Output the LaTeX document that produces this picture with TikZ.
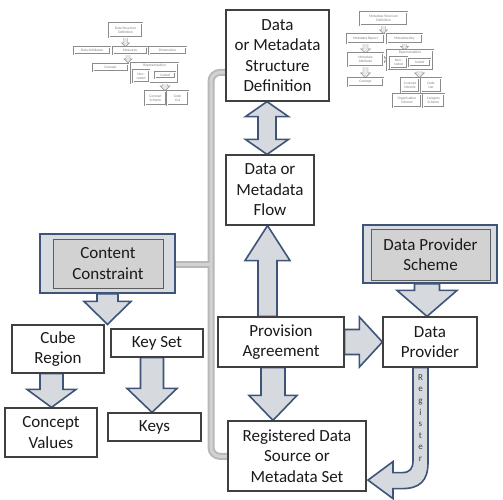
\documentclass[tikz,border=0pt]{standalone}
\usepackage{fontspec}
\setmainfont{Carlito}
\usetikzlibrary{calc,backgrounds}
\definecolor{boxline}{HTML}{404040}
\definecolor{arrline}{HTML}{3E5479}
\definecolor{arrfill}{HTML}{D6D9DE}
\definecolor{outfill}{HTML}{D8DBE0}
\definecolor{infill}{HTML}{D2D2D2}
\definecolor{brk}{HTML}{B8B8B8}
\definecolor{brkin}{HTML}{D2D2D2}
\definecolor{txt}{HTML}{1A1A1A}
\definecolor{mini}{HTML}{8C8C8C}
\definecolor{minitxt}{HTML}{808080}
\newcommand\mainfs{\fontsize{17}{20.5}\selectfont}
\newcommand\minifs{\fontsize{3.6}{4.2}\selectfont}
\newcommand\regfs{\fontsize{9}{11.6}\selectfont}
% block arrow: [style]{start}{end}{half shaft}{half head}{head length}
\newcommand\blockarrow[6][barrow]{%
  \coordinate (bam) at ($(#3)!#6!(#2)$);
  \draw[#1] ($(#2)!#4!90:(#3)$) -- ($(bam)!#4!90:(#3)$) -- ($(bam)!#5!90:(#3)$) -- (#3)
    -- ($(bam)!#5!-90:(#3)$) -- ($(bam)!#4!-90:(#3)$) -- ($(#2)!#4!-90:(#3)$) -- cycle;}
\newcommand\dblarrow[6][barrow]{%
  \coordinate (bam) at ($(#3)!#6!(#2)$);
  \coordinate (bbm) at ($(#2)!#6!(#3)$);
  \draw[#1] (#2) -- ($(bbm)!#5!90:(#3)$) -- ($(bbm)!#4!90:(#3)$) -- ($(bam)!#4!90:(#3)$)
    -- ($(bam)!#5!90:(#3)$) -- (#3) -- ($(bam)!#5!-90:(#3)$) -- ($(bam)!#4!-90:(#3)$)
    -- ($(bbm)!#4!-90:(#3)$) -- ($(bbm)!#5!-90:(#3)$) -- cycle;}
\begin{document}
\begin{tikzpicture}[x=1pt,y=-1pt,
  box/.style={draw=boxline, line width=1.2pt, fill=white, align=center, inner sep=0pt,
    text=txt, font=\mainfs},
  outerbox/.style={draw=arrline, line width=1.6pt, fill=outfill, inner sep=0pt},
  innerbox/.style={draw=boxline!85, line width=1pt, fill=infill, align=center, inner sep=0pt,
    text=txt, font=\mainfs},
  barrow/.style={draw=arrline, line width=1.6pt, fill=arrfill, line join=miter},
  bracketout/.style={draw=brk, line width=7pt, rounded corners=9pt},
  bracketin/.style={draw=brkin, line width=3pt, rounded corners=9pt},
  mbox/.style={draw=mini, line width=0.4pt, double=white, double distance=0.45pt, fill=white,
    inner sep=0pt, align=center, font=\minifs, text=minitxt},
  marrow/.style={draw=mini, line width=0.45pt, fill=gray!18},
  regtxt/.style={align=center, font=\regfs, text=boxline, inner sep=0pt}]
\useasboundingbox (0,0) rectangle (503,499);

% ---------- main nodes ----------
\node[box, minimum width=103pt, minimum height=91pt] (dsd) at (277.5,55.5)
  {Data\\or Metadata\\Structure\\Definition};
\node[box, minimum width=88pt, minimum height=70pt] (flow) at (270,190)
  {Data or\\Metadata\\Flow};
\node[box, minimum width=126pt, minimum height=50pt] (pa) at (281,342)
  {Provision\\Agreement};
\node[box, minimum width=138pt, minimum height=70pt] (reg) at (297,456)
  {Registered Data\\Source or\\Metadata Set};
\node[box, minimum width=94pt, minimum height=50pt] (dp) at (430,342)
  {Data\\Provider};
\node[outerbox, minimum width=134pt, minimum height=58pt] (dps) at (430,254) {};
\node[innerbox, minimum width=119pt, minimum height=51pt] (dpsi) at (430.5,254.5)
  {Data Provider\\Scheme};
\node[outerbox, minimum width=135pt, minimum height=59pt] (cc) at (107.5,263.5) {};
\node[innerbox, minimum width=110pt, minimum height=49pt] (cci) at (108,263.5)
  {Content\\Constraint};
\node[box, minimum width=92pt, minimum height=48pt] (cube) at (58,349) {Cube\\Region};
\node[box, minimum width=92pt, minimum height=28pt] (keyset) at (157,343) {Key Set};
\node[box, minimum width=92pt, minimum height=49pt] (cv) at (51,432.5) {Concept\\Values};
\node[box, minimum width=93pt, minimum height=28pt] (keys) at (154.5,427) {Keys};

% ---------- left mini diagram ----------
\node[mbox, minimum width=33pt, minimum height=14pt] (mdsd) at (125.5,30) {Data Structure\\Definition};
\node[mbox, minimum width=36pt, minimum height=7pt] (mda) at (92,50.5) {Data Attributes};
\node[mbox, minimum width=34pt, minimum height=7pt] (mmeas) at (130,50.5) {Measures};
\node[mbox, minimum width=37pt, minimum height=7pt] (mdim) at (167.5,50.5) {Dimensions};
\node[mbox, minimum width=35pt, minimum height=7pt] (mconc) at (110.5,67.5) {Concept};
\node[mbox, minimum width=47pt, minimum height=20pt,
  label={[anchor=north, inner sep=0.6pt, font=\minifs, text=minitxt]north:Representation}]
  (mrep) at (154.5,73) {};
\node[mbox, minimum width=16pt, minimum height=12pt] (mnon) at (141,76) {Non-\\coded};
\node[mbox, minimum width=20pt, minimum height=6pt] (mcoded) at (165,75) {Coded};
\node[mbox, minimum width=21pt, minimum height=14pt] (mcs) at (155.5,98) {Concept\\Scheme};
\node[mbox, minimum width=21pt, minimum height=14pt] (mcl) at (177.5,98) {Code\\List};

% ---------- right mini diagram ----------
\node[mbox, minimum width=47pt, minimum height=13pt] (rmsd) at (383.5,18.5) {Metadata Structure\\Definition};
\node[mbox, minimum width=37pt, minimum height=9pt] (rmr) at (365.5,38.5) {Metadata Report};
\node[mbox, minimum width=35pt, minimum height=9pt] (rmk) at (404.5,38.5) {Metadata Key};
\node[mbox, minimum width=35pt, minimum height=13pt] (rma) at (365.5,59.5) {Metadata\\Attribute};
\node[mbox, minimum width=46pt, minimum height=20pt,
  label={[anchor=north, inner sep=0.6pt, font=\minifs, text=minitxt]north:Representation}]
  (rmrep) at (410,60) {};
\node[mbox, minimum width=17pt, minimum height=11pt] (rmnon) at (398.5,62.5) {Non-\\coded};
\node[mbox, minimum width=21pt, minimum height=7pt] (rmcoded) at (419.5,62.5) {Coded};
\node[mbox, minimum width=35pt, minimum height=8pt] (rconc) at (365.5,82) {Concept};
\node[mbox, minimum width=18pt, minimum height=14pt] (rcs) at (410,85) {Concept\\Scheme};
\node[mbox, minimum width=20pt, minimum height=14pt] (rcl) at (431,85) {Code\\List};
\node[mbox, minimum width=28pt, minimum height=13pt] (ros) at (407,100.5) {Organisation\\Scheme};
\node[mbox, minimum width=21pt, minimum height=13pt] (rcat) at (433.5,100.5) {Category\\Scheme};

% ---------- connector end points ----------
\coordinate (a1s) at ([xshift=-10.5pt]dsd.south);
\coordinate (a1e) at ([xshift=-3pt]flow.north);
\coordinate (a2s) at ([xshift=-13.5pt]pa.north);
\coordinate (a2e) at ([xshift=-2.5pt]flow.south);
\coordinate (a3s) at ([xshift=-8pt]pa.south);
\coordinate (a3e) at ([xshift=-24pt]reg.north);
\coordinate (a5s) at ([xshift=-3pt]dps.south);
\coordinate (a5e) at ([xshift=-3pt]dp.north);
\coordinate (a6e) at (cc.south |- cube.north);
\coordinate (a7s) at ([xshift=-6.5pt]cube.south);
\coordinate (a7e) at (a7s |- cv.north);
\coordinate (a8s) at ([xshift=-5pt]keyset.south);
\coordinate (a8e) at (a8s |- keys.north);
\coordinate (ma1e) at (mdsd.south |- mmeas.north);
\coordinate (ma2s) at ([xshift=-2pt]mmeas.south);
\coordinate (ma2e) at (ma2s |- mrep.north);
\coordinate (ma3e) at (mcoded.south |- mcs.north);
\coordinate (rb1e) at (rmsd.south |- rmr.north);
\coordinate (rb3e) at (rmk.south |- rmrep.north);
\coordinate (rb4e) at (rma.east -| rmrep.west);
\coordinate (rb6e) at (rmcoded.south |- rcs.north);
\coordinate (bt) at ($(dsd.north west)+(0,63)$);
\coordinate (bb) at ($(reg.north west)+(0,36)$);
\coordinate (bm) at ($(cc.east)+(0,0.5)$);
\coordinate (bx) at (211,300);

\node[regtxt] (regl) at ($(dp.south)+(-9.5,50.5)$) {R\\e\\g\\i\\s\\t\\e\\r};

\begin{pgfonlayer}{background}
  \fill[white] (0,0) rectangle (503,499);
  % bracket
  \draw[bracketout] (bt) -| (bx) |- (bb);
  \draw[bracketout, rounded corners=0pt] (bm) -- (bm -| bx);
  \draw[bracketin] (bt) -| (bx) |- (bb);
  \draw[bracketin, rounded corners=0pt] (bm) -- (bm -| bx);
  % block arrows
  \dblarrow{a1s}{a1e}{9pt}{21.5pt}{15pt}
  \blockarrow{a2s}{a2e}{9.5pt}{22.5pt}{35pt}
  \blockarrow{a3s}{a3e}{12pt}{24pt}{25pt}
  \blockarrow{pa.east}{dp.west}{12.5pt}{25pt}{23pt}
  \blockarrow{a5s}{a5e}{12.5pt}{30pt}{26pt}
  \blockarrow{cc.south}{a6e}{10.5pt}{23.5pt}{23pt}
  \blockarrow{a7s}{a7e}{11.5pt}{24.5pt}{18pt}
  \blockarrow{a8s}{a8e}{11.5pt}{25pt}{24pt}
  % register arrow
  \begin{scope}[shift={(dp.south)}]
    \draw[barrow] (-2,0) -- (-2,95) .. controls (-2,113) and (-10,121) .. (-28,121)
      -- (-37,121) -- (-37,131) -- (-62,112.5) -- (-37,94) -- (-37,105) -- (-28,105)
      .. controls (-20,105) and (-17,101) .. (-17,93) -- (-17,0) -- cycle;
  \end{scope}
  % mini arrows
  \blockarrow[marrow]{mdsd.south}{ma1e}{2pt}{4pt}{4pt}
  \blockarrow[marrow]{ma2s}{ma2e}{2pt}{4pt}{4pt}
  \blockarrow[marrow]{mcoded.south}{ma3e}{2.5pt}{5pt}{5pt}
  \blockarrow[marrow]{rmsd.south}{rb1e}{2pt}{4pt}{4pt}
  \blockarrow[marrow]{rmr.south}{rma.north}{2.5pt}{5pt}{4pt}
  \blockarrow[marrow]{rmk.south}{rb3e}{2pt}{4pt}{3.5pt}
  \blockarrow[marrow]{rma.east}{rb4e}{1.5pt}{3pt}{2.5pt}
  \blockarrow[marrow]{rma.south}{rconc.north}{2.5pt}{5pt}{5pt}
  \blockarrow[marrow]{rmcoded.south}{rb6e}{2.5pt}{5pt}{5pt}
\end{pgfonlayer}
\end{tikzpicture}
\end{document}
